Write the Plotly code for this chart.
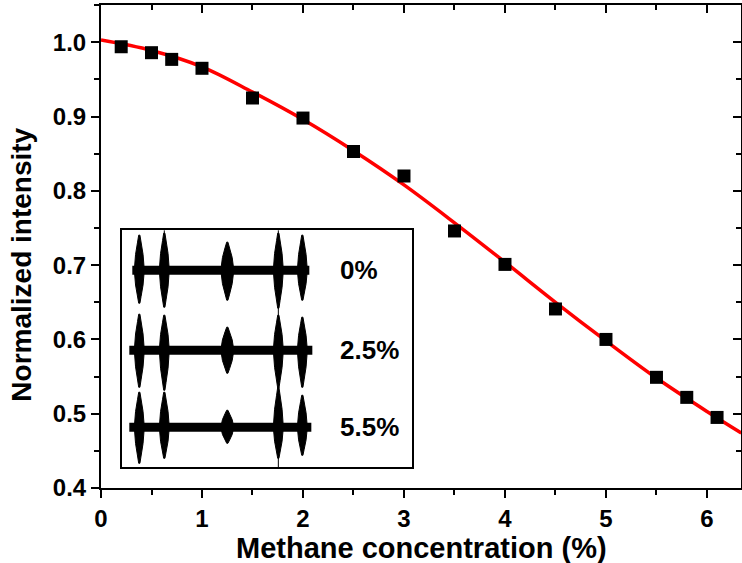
import plotly.graph_objects as go

# ---- main data ----
conc = [0.2, 0.5, 0.7, 1.0, 1.5, 2.0, 2.5, 3.0, 3.5, 4.0, 4.5, 5.0, 5.5, 5.8, 6.1]
intensity = [0.994, 0.986, 0.977, 0.965, 0.925, 0.898, 0.853, 0.820, 0.746, 0.701,
             0.641, 0.600, 0.549, 0.522, 0.495]

fit_x = [0, 0.5, 1.0, 1.5, 2.0, 2.5, 3.0, 3.5, 4.0, 4.5, 5.0, 5.5, 6.0, 6.34]
fit_y = [1.003, 0.989, 0.967, 0.933, 0.896, 0.854, 0.808, 0.757, 0.704, 0.650,
         0.598, 0.548, 0.503, 0.474]

x_ticks = [0, 1, 2, 3, 4, 5, 6]
y_ticks = [0.4, 0.5, 0.6, 0.7, 0.8, 0.9, 1.0]
x_title = "Methane concentration (%)"
y_title = "Normalized intensity"

# ---- inset waveform data (inset units ~ pixels) ----
inset_labels = ["0%", "2.5%", "5.5%"]
row_base = [197, 117, 40]
row_start = [10, 7, 7]
row_end = [187, 190, 189]
spike_pos = [17, 42, 105, 156, 180]
spike_up = [[35, 37, 28, 37, 35],
            [36, 35, 23, 35, 33],
            [35, 35, 17, 40, 32]]
spike_down = [[33, 37, 30, 38, 30],
              [37, 40, 23, 38, 37],
              [36, 31, 16, 31, 28]]
spike_halfw = [5, 5, 6.5, 5, 5]

FONT = "Arial, Liberation Sans, sans-serif"

fig = go.Figure()

fig.add_trace(go.Scatter(x=fit_x, y=fit_y, mode="lines", line=dict(color="#ff0000", width=3.5, shape="spline"),
                         showlegend=False, hoverinfo="skip"))
fig.add_trace(go.Scatter(x=conc, y=intensity, mode="markers",
                         marker=dict(symbol="square", size=13, color="black"), showlegend=False))
fig.add_trace(go.Scatter(x=[None], y=[None], xaxis="x2", yaxis="y2", showlegend=False))

for r in range(3):
    b = row_base[r]
    fig.add_trace(go.Scatter(x=[row_start[r], row_end[r]], y=[b, b], mode="lines",
                             line=dict(color="black", width=9), xaxis="x3", yaxis="y3",
                             showlegend=False, hoverinfo="skip"))
    xs, ys = [], []
    for i, p in enumerate(spike_pos):
        w = spike_halfw[i]
        u = spike_up[r][i]
        d = spike_down[r][i]
        xs += [p - w, p - w * 0.75, p - w * 0.35, p - 0.6, p + 0.6, p + w * 0.35, p + w * 0.75, p + w,
               p + w * 0.75, p + w * 0.35, p + 0.6, p - 0.6, p - w * 0.35, p - w * 0.75, p - w, None]
        ys += [b, b + u * 0.45, b + u * 0.8, b + u, b + u, b + u * 0.8, b + u * 0.45, b,
               b - d * 0.45, b - d * 0.8, b - d, b - d, b - d * 0.8, b - d * 0.45, b, None]
    fig.add_trace(go.Scatter(x=xs, y=ys, mode="lines", fill="toself", fillcolor="black",
                             line=dict(color="black", width=1), xaxis="x3", yaxis="y3",
                             showlegend=False, hoverinfo="skip"))
fig.add_trace(go.Scatter(x=[156, 156, None, 42, 42], y=[0, 237, None, 237, 225], mode="lines",
                         line=dict(color="black", width=1), xaxis="x3", yaxis="y3",
                         showlegend=False, hoverinfo="skip"))

for r in range(3):
    fig.add_annotation(x=216, y=row_base[r], xref="x3", yref="y3", text=inset_labels[r],
                       showarrow=False, xanchor="left", yanchor="middle",
                       font=dict(family=FONT, size=26, color="black", weight="bold"))

fig.add_annotation(x=0.5, y=-0.125, xref="paper", yref="paper", text=x_title, showarrow=False,
                   xanchor="center", yanchor="middle",
                   font=dict(family=FONT, size=29, color="black", weight="bold"))
fig.add_annotation(x=-0.1234, y=0.4624, xref="paper", yref="paper", text=y_title, showarrow=False,
                   textangle=-90, xanchor="center", yanchor="middle",
                   font=dict(family=FONT, size=28, color="black", weight="bold"))

XR = [0, 6.337]
YR = [0.4, 1.0502]
tickfont = dict(family=FONT, size=24, color="black", weight="bold")

fig.update_layout(
    width=742, height=563,
    margin=dict(l=101, r=1, t=5, b=75.3, autoexpand=False),
    plot_bgcolor="white", paper_bgcolor="white",
    xaxis=dict(range=XR, tickvals=x_ticks, ticks="outside", ticklen=8, tickwidth=2, tickcolor="black",
               showline=True, linewidth=2, linecolor="black", showgrid=False, zeroline=False,
               tickfont=tickfont, automargin=False,
               minor=dict(dtick=0.5, ticks="outside", ticklen=5, tickwidth=2, tickcolor="black")),
    yaxis=dict(range=YR, tickvals=y_ticks, tickformat=".1f", ticks="outside", ticklen=8, tickwidth=2,
               tickcolor="black", showline=True, linewidth=2, linecolor="black", showgrid=False,
               zeroline=False, tickfont=tickfont, automargin=False,
               minor=dict(dtick=0.05, tick0=0.4, ticks="outside", ticklen=5, tickwidth=2, tickcolor="black")),
    xaxis2=dict(range=XR, overlaying="x", side="top", tickvals=x_ticks, ticks="inside", ticklen=8,
                tickwidth=2, tickcolor="black", showticklabels=False, showline=True, linewidth=2,
                linecolor="black", showgrid=False, zeroline=False, automargin=False,
                minor=dict(dtick=0.5, ticks="inside", ticklen=5, tickwidth=2, tickcolor="black")),
    yaxis2=dict(range=YR, overlaying="y", side="right", tickvals=y_ticks, ticks="inside", ticklen=8,
                tickwidth=2, tickcolor="black", showticklabels=False, showline=True, linewidth=2,
                linecolor="black", showgrid=False, zeroline=False, automargin=False,
                minor=dict(dtick=0.05, tick0=0.4, ticks="inside", ticklen=5, tickwidth=2, tickcolor="black")),
    xaxis3=dict(domain=[0.0333, 0.486], anchor="y3", range=[0, 289.7], showline=True, mirror=True,
                linewidth=2, linecolor="black", showgrid=False, zeroline=False, showticklabels=False,
                ticks="", automargin=False),
    yaxis3=dict(domain=[0.0429, 0.5339], anchor="x3", range=[0, 237], showline=True, mirror=True,
                linewidth=2, linecolor="black", showgrid=False, zeroline=False, showticklabels=False,
                ticks="", automargin=False),
)

fig.write_html("out.html", config={"displayModeBar": False},
               post_script="document.body.style.margin='0px';document.body.style.overflow='hidden';")
